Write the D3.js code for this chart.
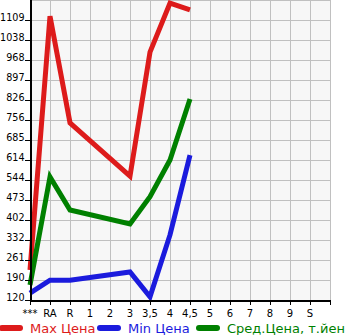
<!DOCTYPE html>
<html>
<head>
<meta charset="utf-8">
<script src="https://cdn.jsdelivr.net/npm/d3@7"></script>
<style>
body { margin: 0; background: #fff; }
svg { display: block; font-family: "DejaVu Sans", sans-serif; }
</style>
</head>
<body>
<svg width="345" height="335"></svg>
<script>
var categories = ["***", "RA", "R", "1", "2", "3", "3,5", "4", "4,5", "5", "6", "7", "8", "9", "S"];
var yTicks = [120, 190, 261, 332, 402, 473, 544, 614, 685, 756, 826, 897, 968, 1038, 1109];

// prices per category (null = no data)
var maxPrice = [226, 1123, 746, null, null, 558, 996, 1169, 1145, null, null, null, null, null, null];
var minPrice = [144, 190, 190, null, null, 219, 131, 350, 632, null, null, null, null, null, null];
var avgPrice = [173, 555, 438, null, null, 389, 485, 615, 830, null, null, null, null, null, null];

var legendNames = ["Max Цена", "Min Цена", "Сред.Цена, т.йен"];
var colors = ["#dd1b1b", "#1b1bdd", "#008000"];

var svg = d3.select("svg");

var x = d3.scaleLinear().domain([0, categories.length]).range([30, 330]);
var y = d3.scaleLinear().domain([120, 1180]).range([300, 0]);

// plot background
svg.append("rect")
    .attr("x", x(0)).attr("y", y(1180))
    .attr("width", x(categories.length) - x(0))
    .attr("height", y(120) - y(1180))
    .attr("fill", "#f7f7f7");

// grid
var grid = svg.append("g").attr("stroke", "#c0c0c0").attr("stroke-width", 1);
d3.range(categories.length + 1).forEach(function(i) {
    grid.append("line")
        .attr("x1", x(i) + 0.5).attr("x2", x(i) + 0.5)
        .attr("y1", 0).attr("y2", 300);
});
yTicks.concat([1180]).forEach(function(v) {
    grid.append("line")
        .attr("x1", 30).attr("x2", 330)
        .attr("y1", Math.round(y(v)) + 0.5).attr("y2", Math.round(y(v)) + 0.5);
});

// series lines, nulls dropped so gaps are bridged
[maxPrice, minPrice, avgPrice].forEach(function(s, k) {
    var pts = s.map(function(v, i) { return v == null ? null : [x(i), y(v)]; })
               .filter(function(p) { return p; });
    svg.append("path")
        .attr("d", d3.line()(pts))
        .attr("fill", "none")
        .attr("stroke", colors[k])
        .attr("stroke-width", 5)
        .attr("stroke-linejoin", "miter")
        .attr("stroke-linecap", "butt");
});

// y axis
var yAxis = svg.append("g");
yAxis.append("line")
    .attr("x1", 31).attr("x2", 31).attr("y1", 0).attr("y2", 301)
    .attr("stroke", "#000").attr("stroke-width", 2);
yTicks.forEach(function(v) {
    var yy = Math.round(y(v)) + 0.5;
    yAxis.append("line")
        .attr("x1", 25).attr("x2", 31).attr("y1", yy).attr("y2", yy)
        .attr("stroke", "#000");
    yAxis.append("text")
        .attr("x", 24.5).attr("y", yy - 3)
        .attr("dy", "0.35em")
        .attr("text-anchor", "end")
        .attr("font-size", 9.6)
        .text(v);
});

// x axis
var xAxis = svg.append("g");
xAxis.append("line")
    .attr("x1", 30).attr("x2", 331).attr("y1", 301).attr("y2", 301)
    .attr("stroke", "#000").attr("stroke-width", 2);
d3.range(categories.length + 1).forEach(function(i) {
    xAxis.append("line")
        .attr("x1", x(i) + 0.5).attr("x2", x(i) + 0.5).attr("y1", 301).attr("y2", 305)
        .attr("stroke", "#000");
});
categories.forEach(function(c, i) {
    xAxis.append("text")
        .attr("x", x(i)).attr("y", 313)
        .attr("dy", "0.35em")
        .attr("text-anchor", "middle")
        .attr("font-size", 10)
        .text(c);
});

// legend
var legX = [0, 98, 197];
legendNames.forEach(function(name, k) {
    var g = svg.append("g").attr("transform", "translate(" + legX[k] + ",328)");
    g.append("line")
        .attr("x1", 2).attr("x2", 20).attr("y1", 0).attr("y2", 0)
        .attr("stroke", colors[k]).attr("stroke-width", 6)
        .attr("stroke-linecap", "round");
    g.append("text")
        .attr("x", 30).attr("y", 0).attr("dy", "0.35em")
        .attr("fill", colors[k])
        .attr("font-size", 13)
        .text(name);
});
</script>
</body>
</html>
